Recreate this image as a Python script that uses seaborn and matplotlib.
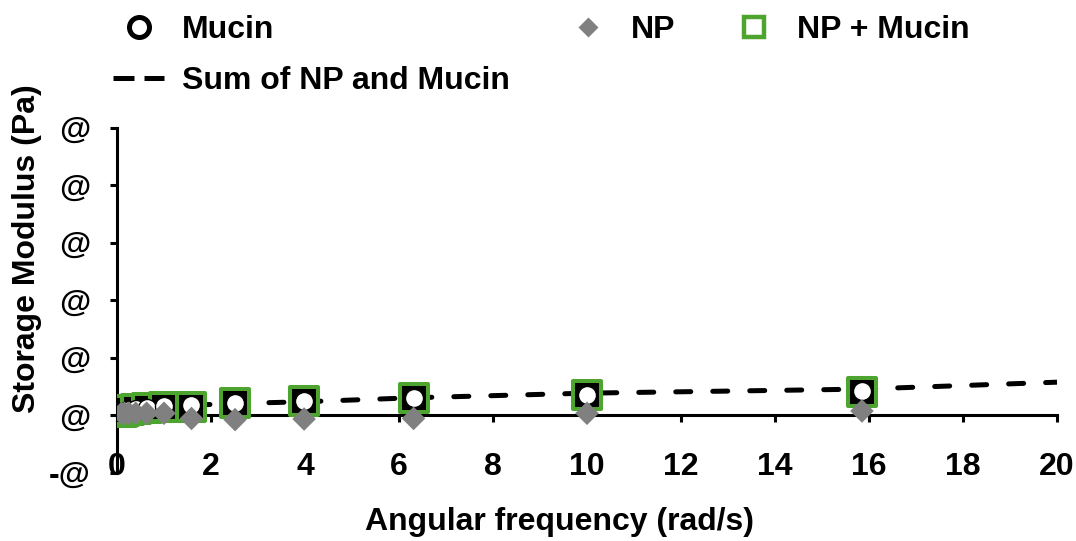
import matplotlib
matplotlib.use("Agg")
import matplotlib.pyplot as plt
from matplotlib.lines import Line2D
from matplotlib.ticker import FuncFormatter
import numpy as np
import pandas as pd
import seaborn as sns

# Angular frequency sweep (rad/s)
freq = [0.1, 0.158, 0.251, 0.398, 0.631, 1.0, 1.585, 2.512, 3.981, 6.31, 10.0, 15.85]
# Storage modulus of each sample
mucin = [0.05, 0.07, 0.09, 0.11, 0.13, 0.15, 0.17, 0.21, 0.24, 0.30, 0.35, 0.42]
np_only = [0.03, 0.03, 0.03, 0.03, 0.03, 0.03, -0.06, -0.08, -0.07, -0.06, 0.03, 0.07]
np_mucin = [0.06, 0.07, 0.08, 0.10, 0.12, 0.14, 0.14, 0.21, 0.25, 0.29, 0.35, 0.40]
# Sum of the NP and Mucin curves (continues past the axis limit)
sum_freq = [0.1, 0.158, 0.251, 0.398, 0.631, 1.0, 1.585, 2.512, 3.981, 6.31, 10.0, 15.85, 25.12]
sum_vals = [0.02, 0.04, 0.06, 0.08, 0.10, 0.14, 0.17, 0.20, 0.23, 0.30, 0.38, 0.45, 0.72]

x_ticks = list(range(0, 21, 2))
y_ticks = [-1, 0, 1, 2, 3, 4, 5]

GREEN = "#4DA52F"
GREY = "#808080"
FS = 23

sns.set_style("white")
plt.rcParams["font.family"] = ["Liberation Sans", "DejaVu Sans"]
plt.rcParams["font.weight"] = "bold"
plt.rcParams["axes.labelweight"] = "bold"
plt.rcParams["text.color"] = "black"
plt.rcParams["axes.labelcolor"] = "black"

df_sum = pd.DataFrame({"freq": sum_freq, "G": sum_vals})
df_pts = pd.DataFrame({"freq": freq, "mucin": mucin, "np": np_only, "np_mucin": np_mucin})

fig = plt.figure(figsize=(10.76, 5.41), dpi=100)
ax = fig.add_axes([117 / 1076, 1 - 472.5 / 541, 940 / 1076, 345 / 541])

sns.lineplot(data=df_sum, x="freq", y="G", ax=ax, color="black", linewidth=3.6,
             dashes=False, zorder=2)
ax.lines[-1].set_linestyle((0, (3.0, 4.4)))
ax.lines[-1].set_dash_capstyle("round")

sns.scatterplot(data=df_pts, x="freq", y="np_mucin", ax=ax, marker="s", s=19.5 ** 2,
                color="black", edgecolor=GREEN, linewidth=2.9, zorder=3)
sns.scatterplot(data=df_pts, x="freq", y="mucin", ax=ax, marker="o", s=13 ** 2,
                color="white", edgecolor="black", linewidth=1.0, zorder=4)
sns.scatterplot(data=df_pts, x="freq", y="np", ax=ax, marker="D", s=12 ** 2,
                color=GREY, edgecolor="none", linewidth=0, zorder=5)

ax.set_xlim(0, 20)
ax.set_ylim(-1, 5)
ax.set_xticks(x_ticks)
ax.set_yticks(y_ticks)
ax.yaxis.set_major_formatter(FuncFormatter(lambda v, p: "-@" if v < 0 else "@"))
ax.xaxis.set_major_formatter(FuncFormatter(lambda v, p: f"{v:g}"))

for s in ["top", "right"]:
    ax.spines[s].set_visible(False)
ax.spines["bottom"].set_position(("data", 0))
for s in ["bottom", "left"]:
    ax.spines[s].set_linewidth(2.2)
    ax.spines[s].set_color("black")
ax.tick_params(axis="both", direction="out", length=5, width=2.2, color="black",
               labelsize=FS, labelcolor="black")
ax.tick_params(axis="x", bottom=True, pad=21.5)
ax.tick_params(axis="y", left=True, pad=14)
for lab in ax.get_xticklabels() + ax.get_yticklabels():
    lab.set_fontweight("bold")

ax.set_xlabel("")
ax.set_ylabel("Storage Modulus (Pa)", fontsize=FS, fontweight="bold")
ax.yaxis.set_label_coords(-0.080, 0.648)
fig.text(559.5 / 1076, 1 - 522 / 541, "Angular frequency (rad/s)", fontsize=FS,
         fontweight="bold", ha="center", va="center")

sum_handle = Line2D([], [], color="black", linewidth=3.6, linestyle=(0, (4.2, 2.0)))
sum_handle.set_dash_capstyle("butt")
handles = [
    Line2D([], [], linestyle="none", marker="o", markersize=14.4, markerfacecolor="white",
           markeredgecolor="black", markeredgewidth=3.6),
    sum_handle,
    Line2D([], [], linestyle="none", marker="D", markersize=10, markerfacecolor=GREY,
           markeredgecolor="none"),
    Line2D([], [], linestyle="none", marker="s", markersize=14, markerfacecolor="white",
           markeredgecolor=GREEN, markeredgewidth=3.2),
]
labels = ["Mucin", "Sum of NP and Mucin", "NP", "NP + Mucin"]
fig.legend(handles, labels, ncol=3, loc="upper left", bbox_to_anchor=(113 / 1076, 1 - 15 / 541),
           frameon=False, prop={"size": FS, "weight": "bold"}, handlelength=1.6,
           handletextpad=0.55, columnspacing=1.65, labelspacing=0.66, borderpad=0,
           borderaxespad=0)

fig.savefig("out.png", dpi=100)
